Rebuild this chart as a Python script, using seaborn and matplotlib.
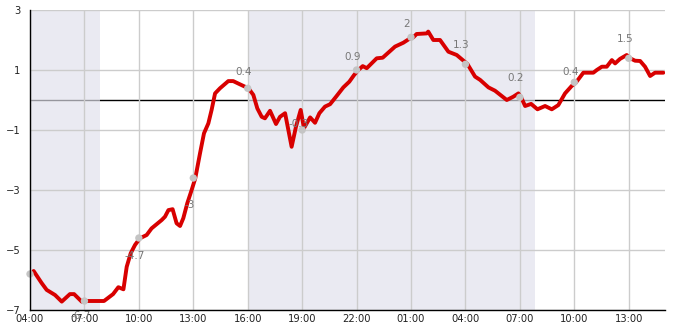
import numpy as np
import pandas as pd
import matplotlib
matplotlib.use("Agg")
import matplotlib.pyplot as plt
import matplotlib.dates as mdates
from matplotlib.ticker import MultipleLocator
import seaborn as sns

# ---- data ----
start = pd.Timestamp("2024-01-01 04:00")
end_hours = 35.0

# hours since 04:00 day 1 and series values
line_hours = [0.2, 0.64, 0.92, 1.38, 1.75, 2.2, 2.43, 2.85, 3.05, 4.08, 4.58, 4.87, 5.15,
              5.33, 5.55, 5.79, 6.06, 6.43, 6.7, 6.98, 7.26, 7.44, 7.63, 7.86, 8.08,
              8.27, 8.45, 8.67, 8.91, 9.11, 9.37, 9.59, 9.83, 10.01, 10.2, 10.47, 10.93,
              11.2, 11.58, 12.04, 12.31, 12.53, 12.77, 12.95, 13.23, 13.56, 13.78, 14.06,
              14.42, 14.66, 14.92, 15.1, 15.44, 15.71, 15.95, 16.26, 16.54, 16.87, 17.27,
              17.6, 17.86, 18.1, 18.34, 18.56, 19.11, 19.44, 20.12, 20.58, 20.86, 21.13,
              21.31, 21.87, 21.95, 22.23, 22.6, 23.06, 23.52, 24.11, 24.53, 24.81, 25.27,
              25.63, 26.28, 26.64, 26.92, 27.07, 27.29, 27.62, 27.97, 28.39, 28.76, 29.12,
              29.49, 29.86, 30.1, 30.5, 31.05, 31.24, 31.52, 31.79, 32.07, 32.25, 32.52,
              32.89, 33.08, 33.35, 33.63, 33.9, 34.18, 34.45, 34.91]
line_values = [-5.7, -6.1, -6.33, -6.5, -6.72, -6.47, -6.47, -6.72, -6.7, -6.7, -6.47, -6.24, -6.31,
               -5.56, -5.11, -4.83, -4.61, -4.5, -4.28, -4.14, -4.0, -3.89, -3.67, -3.64, -4.11,
               -4.2, -3.94, -3.44, -3.0, -2.61, -1.78, -1.11, -0.78, -0.33, 0.22, 0.39, 0.63,
               0.63, 0.52, 0.39, 0.17, -0.28, -0.56, -0.61, -0.36, -0.8, -0.56, -0.44,
               -1.56, -0.89, -0.33, -0.94, -0.58, -0.76, -0.44, -0.22, -0.14, 0.11, 0.42,
               0.61, 0.83, 1.0, 1.13, 1.06, 1.39, 1.41, 1.78, 1.91, 2.02, 2.09,
               2.2, 2.22, 2.28, 2.0, 2.0, 1.61, 1.5, 1.2, 0.78, 0.67, 0.42,
               0.31, 0.0, 0.11, 0.22, 0.09, -0.2, -0.13, -0.31, -0.2, -0.31, -0.17,
               0.22, 0.47, 0.59, 0.91, 0.91, 1.0, 1.11, 1.11, 1.33, 1.22, 1.37,
               1.5, 1.39, 1.31, 1.3, 1.11, 0.8, 0.91, 0.91]

# marked points every 3 hours, with their labels
mark_hours = [0, 3, 6, 9, 12, 15, 18, 21, 24, 27, 30, 33]
mark_values = [-5.8, -6.7, -4.6, -2.6, 0.39, -1.0, 1.0, 2.09, 1.19, 0.09, 0.59, 1.39]
mark_labels = ["", "-6.7", "-4.7", "-3", "0.4", "-0.3", "0.9", "2", "1.3", "0.2", "0.4", "1.5"]
label_values = [None, -6.7, -4.7, -3, 0.4, -0.3, 0.9, 2, 1.3, 0.2, 0.4, 1.5]

# shaded periods (hours since start)
shade_periods = [(0, 3.85), (12, 27.85)]

y_min, y_max = -7, 3

# ---- build frames ----
line_df = pd.DataFrame({"time": [start + pd.Timedelta(hours=h) for h in line_hours],
                        "value": line_values})
mark_df = pd.DataFrame({"time": [start + pd.Timedelta(hours=h) for h in mark_hours],
                        "value": mark_values})

sns.set_style("white")
plt.rcParams["font.family"] = ["DejaVu Sans"]

fig = plt.figure(figsize=(6.85, 3.30), dpi=100)
ax = fig.add_axes([30 / 685, 20 / 330, 635 / 685, 300 / 330])

# zero line (below shading)
ax.axhline(0, color="black", lw=1, zorder=1)

for s, e in shade_periods:
    ax.axvspan(start + pd.Timedelta(hours=s), start + pd.Timedelta(hours=e),
               facecolor=(225 / 255, 225 / 255, 236 / 255), alpha=0.67, lw=0, zorder=1.2)

sns.lineplot(data=line_df, x="time", y="value", ax=ax, color="#d80000",
             lw=2.8, zorder=3, legend=False)
sns.scatterplot(data=mark_df, x="time", y="value", ax=ax, color="#c4c4c4",
                s=28, edgecolor="none", zorder=4, legend=False, clip_on=False)

for t, lab, lv in zip(mark_df["time"], mark_labels, label_values):
    if not lab:
        continue
    dy = 16 if lv > 0 else -15
    ax.annotate(lab, (t, lv), xytext=(-4, dy), textcoords="offset pixels",
                ha="center", va="center", color="#777777", fontsize=7.5, zorder=5)

ax.set_xlim(start, start + pd.Timedelta(hours=end_hours))
ax.set_ylim(y_min, y_max)

ax.xaxis.set_major_locator(mdates.HourLocator(byhour=[1, 4, 7, 10, 13, 16, 19, 22]))
ax.xaxis.set_major_formatter(mdates.DateFormatter("%H:%M"))
ax.set_yticks(np.arange(y_min, y_max + 1, 2))
ax.yaxis.set_minor_locator(MultipleLocator(1))

ax.grid(True, which="major", color="#cccccc", lw=1)
ax.set_axisbelow(False)
for gl in ax.get_xgridlines() + ax.get_ygridlines():
    gl.set_zorder(2)

ax.tick_params(axis="both", which="both", direction="in", length=4, width=1,
               color="black", labelsize=7.2, labelcolor="#222222")
ax.tick_params(axis="y", pad=7)
ax.tick_params(axis="x", pad=3)

for side in ["top", "right"]:
    ax.spines[side].set_visible(False)
for side in ["left", "bottom"]:
    ax.spines[side].set_color("black")
    ax.spines[side].set_linewidth(1)
    ax.spines[side].set_zorder(6)

ax.set_xlabel("")
ax.set_ylabel("")

fig.savefig("out.png", dpi=100)
